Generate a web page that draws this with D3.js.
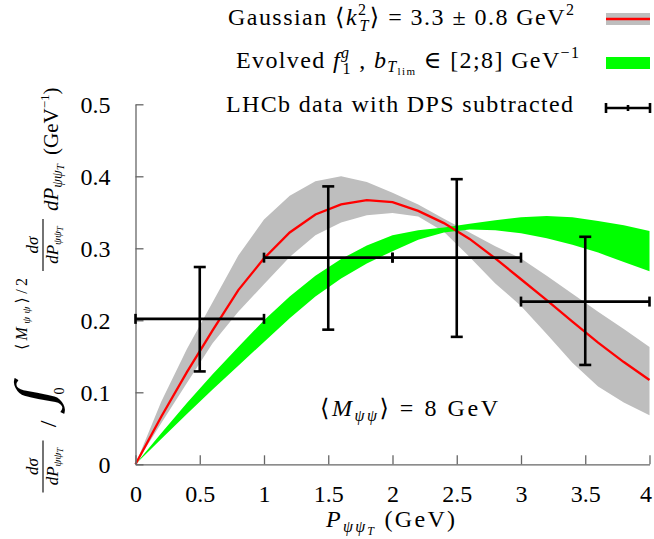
<!DOCTYPE html>
<html><head><meta charset="utf-8">
<script src="https://cdn.jsdelivr.net/npm/d3@7"></script>
<style>
html,body{margin:0;padding:0;background:#fff;}
text{font-family:"Liberation Serif","DejaVu Serif",serif;fill:#000;}
</style></head>
<body><svg id="c" width="654" height="539"></svg>
<script>
// ---- data ----
const pT = [0,0.2,0.4,0.6,0.8,1.0,1.2,1.4,1.6,1.8,2.0,2.2,2.4,2.6,2.8,3.0,3.2,3.4,3.6,3.8,4.0];
const gaussCentral = [0,0.066,0.128,0.186,0.242,0.286,0.322,0.347,0.361,0.367,0.364,0.352,0.335,0.313,0.286,0.257,0.228,0.198,0.169,0.142,0.117];
const gaussUpper = [0,0.087,0.160,0.225,0.290,0.340,0.373,0.393,0.400,0.392,0.377,0.361,0.341,0.322,0.303,0.286,0.262,0.237,0.212,0.188,0.163];
const gaussLower = [0,0.057,0.113,0.168,0.212,0.250,0.288,0.318,0.336,0.346,0.349,0.344,0.323,0.288,0.251,0.220,0.181,0.141,0.108,0.086,0.068];
const evolvedUpper = [0,0.043,0.085,0.125,0.163,0.200,0.233,0.262,0.285,0.304,0.318,0.325,0.329,0.334,0.339,0.343,0.345,0.343,0.338,0.332,0.324];
const evolvedLower = [0,0.035,0.070,0.104,0.137,0.170,0.203,0.233,0.258,0.279,0.296,0.312,0.322,0.326,0.325,0.321,0.314,0.305,0.294,0.281,0.268];
const dataX = [0.5,1.5,2.5,3.5];
const dataXLo = [0,1,2,3];
const dataXHi = [1,2,3,4];
const dataY = [0.202,0.287,0.287,0.226];
const dataYLo = [0.129,0.187,0.177,0.138];
const dataYHi = [0.274,0.386,0.396,0.316];
const xTicks = [0,0.5,1,1.5,2,2.5,3,3.5,4];
const yTicks = [0,0.1,0.2,0.3,0.4,0.5];

const svg = d3.select("#c");
const x = d3.scaleLinear().domain([0,4]).range([135.5,649.5]);
const y = d3.scaleLinear().domain([0,0.5]).range([464.3,104.3]);

const band = (lo,hi)=>d3.area().x((d,i)=>x(pT[i])).y0((d,i)=>y(lo[i])).y1((d,i)=>y(hi[i]));
svg.append("path").attr("d", band(gaussLower,gaussUpper)(pT)).attr("fill","#bebebe");
svg.append("path").attr("d", band(evolvedLower,evolvedUpper)(pT)).attr("fill","#00ff00");
svg.append("path").attr("d", d3.line().x((d,i)=>x(pT[i])).y((d,i)=>y(gaussCentral[i]))(pT))
  .attr("fill","none").attr("stroke","#ff0000").attr("stroke-width",2.3);

// axes
const axCol = "#666";
const gx = svg.append("g").attr("transform",`translate(0,${y(0)})`)
  .call(d3.axisBottom(x).tickValues(xTicks).tickSizeInner(-9).tickSizeOuter(0).tickFormat(d=>String(d)));
gx.selectAll("text").attr("y",38).attr("dy",null).style("font-size","24px").style("font-family",'"Liberation Serif",serif').attr("fill","#000");
gx.selectAll("text").filter(d=>d===4).attr("text-anchor","end").attr("x",2);
const gy = svg.append("g").attr("transform",`translate(${x(0)},0)`)
  .call(d3.axisLeft(y).tickValues(yTicks).tickSizeInner(-8).tickSizeOuter(0).tickFormat(d=>String(d)));
gy.selectAll("text").attr("x",-25).attr("dy","0.34em").style("font-size","24px").style("font-family",'"Liberation Serif",serif').attr("fill","#000");
svg.selectAll(".domain").attr("stroke",axCol).attr("stroke-width",1.3);
svg.selectAll(".tick line").attr("stroke",axCol).attr("stroke-width",1.3);

// error bars
const eb = svg.append("g").attr("stroke","#000").attr("stroke-width",2.6).attr("fill","none");
dataX.forEach((xv,i)=>{
  eb.append("line").attr("x1",x(dataXLo[i])).attr("x2",x(dataXHi[i])).attr("y1",y(dataY[i])).attr("y2",y(dataY[i]));
  eb.append("line").attr("x1",x(xv)).attr("x2",x(xv)).attr("y1",y(dataYLo[i])).attr("y2",y(dataYHi[i]));
  [dataYLo[i],dataYHi[i]].forEach(v=>eb.append("line").attr("x1",x(xv)-6).attr("x2",x(xv)+6).attr("y1",y(v)).attr("y2",y(v)));
  [dataXLo[i],dataXHi[i]].forEach(v=>eb.append("line").attr("x1",x(v)).attr("x2",x(v)).attr("y1",y(dataY[i])-5).attr("y2",y(dataY[i])+5));
});

// text helper
function addText(parent, xx, yy, parts, anchor, size, len){
  const t = parent.append("text").attr("x",xx).attr("y",yy).attr("text-anchor",anchor||"start").style("font-size",(size||21)+"px");
  if(len) t.attr("textLength",len).attr("lengthAdjust","spacing");
  parts.forEach(p=>{
    const s = t.append("tspan").text(p.t);
    if(p.i) s.style("font-style","italic");
    if(p.s) s.style("font-size",p.s+"px");
    if(p.dy!=null) s.attr("dy",p.dy);
    if(p.dx!=null) s.attr("dx",p.dx);
  });
  return t;
}

// legend
const L = svg.append("g");
addText(L,228,25,[{t:"Gaussian ⟨"},{t:"k",i:1},{t:"2",s:16,dy:-10},{t:"T",i:1,s:16,dx:-8,dy:16},{t:"⟩ = 3.3 ± 0.8 GeV",dy:-6},{t:"2",s:16,dy:-10}],"start",24,346);
addText(L,236,68,[{t:"Evolved "},{t:"f",i:1},{t:"g",i:1,s:16,dy:-10},{t:"1",s:16,dx:-8,dy:16},{t:" , ",dy:-6},{t:"b",i:1},{t:"T",i:1,s:16,dy:4},{t:"lim",s:11,dy:3},{t:" ∈ [2;8] GeV",dy:-7},{t:"−1",s:16,dy:-10}],"start",24,343);
addText(L,226,112,[{t:"LHCb data with DPS subtracted"}],"start",24,347);
L.append("rect").attr("x",606).attr("y",13).attr("width",44).attr("height",12).attr("fill","#bebebe");
L.append("line").attr("x1",606).attr("x2",650).attr("y1",19).attr("y2",19).attr("stroke","#ff0000").attr("stroke-width",2.6);
L.append("rect").attr("x",606).attr("y",57).attr("width",44).attr("height",12).attr("fill","#00ff00");
const le = L.append("g").attr("stroke","#000").attr("stroke-width",2.6);
le.append("line").attr("x1",606).attr("x2",650).attr("y1",108).attr("y2",108);
[606,628,650].forEach(v=>le.append("line").attr("x1",v).attr("x2",v).attr("y1",v===628?105:103).attr("y2",v===628?111:113));

// annotation
addText(svg,320,416,[{t:"⟨"},{t:"M",i:1},{t:"ψψ",i:1,s:16,dy:5},{t:"⟩ = 8 GeV",dy:-5}],"start",24,178);

// x label
addText(svg,326,527,[{t:"P",i:1},{t:"ψψ",i:1,s:16,dy:5},{t:"T",i:1,s:12,dy:3},{t:" (GeV)",dy:-8}],"start",24,129);

// y label (rotated)
const Y = svg.append("g").attr("transform","rotate(-90)");
function frac(uc){
  addText(Y,uc,38,[{t:"dσ",i:1}],"middle",17);
  Y.append("line").attr("x1",uc-26).attr("x2",uc+26).attr("y1",43).attr("y2",43).attr("stroke","#000").attr("stroke-width",1.1);
  addText(Y,uc,58,[{t:"dP",i:1},{t:"ψψ",i:1,s:11,dy:3},{t:"T",i:1,s:9,dy:2}],"middle",17);
}
frac(-466.5);
addText(Y,-424,56,[{t:"/"}],"middle",24);
// integral sign fitted to its box using ink metrics
(function(){
  const fam = '"Liberation Serif"';
  const ctx = document.createElement("canvas").getContext("2d");
  const F0 = 40; ctx.font = F0+"px "+fam;
  const m = ctx.measureText("∫");
  const h = m.actualBoundingBoxAscent + m.actualBoundingBoxDescent;
  const targetH = 52, vTop = 13, uC = -398;
  const k = targetH / (h || 1);
  const sx = 1.35;
  const base = vTop + m.actualBoundingBoxAscent * k;
  const cx = (m.actualBoundingBoxRight - m.actualBoundingBoxLeft) / 2 * k;
  Y.append("text").attr("transform",`translate(${uC},${base}) scale(${sx},1) skewX(-8)`)
    .attr("x",-cx).attr("y",0).style("font-size",(F0*k)+"px").style("font-family",fam).text("∫");
})();
addText(Y,-391,64,[{t:"0"}],"middle",14);
addText(Y,-350,27,[{t:"⟨"},{t:"M",i:1},{t:"ψψ",i:1,s:11,dy:3},{t:"⟩/2",dy:-3}],"start",16,72);
frac(-245);
addText(Y,-211,58,[{t:"dP",i:1},{t:"ψψ",i:1,s:14,dy:4},{t:"T",i:1,s:11,dy:2}],"start",21);
addText(Y,-155,58,[{t:"(GeV"},{t:"−1",s:13,dy:-9},{t:")",dy:9}],"start",21);
</script></body></html>
